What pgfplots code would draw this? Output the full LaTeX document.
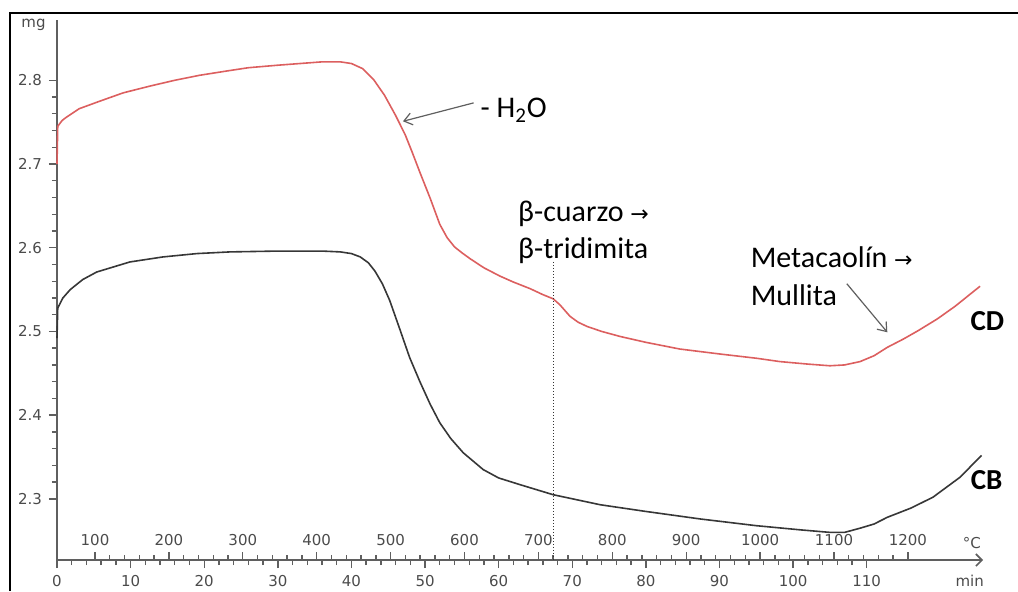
\documentclass[border=0pt]{standalone}
\usepackage{fontspec}
\setmainfont{Carlito}
\newfontfamily\tickfont{DejaVu Sans}
\usepackage{pgfplots}
\pgfplotsset{compat=1.18}
\usetikzlibrary{arrows.meta}
\definecolor{cdred}{RGB}{220,95,95}
\definecolor{cbgray}{RGB}{55,55,55}
\definecolor{axgray}{RGB}{95,95,95}
\definecolor{lblgray}{RGB}{75,75,75}
\newcommand{\arr}{{\tickfont\fontsize{11}{13}\selectfont →}}

\pgfplotstableread{
t m
0 2.700
0.1 2.745
0.7 2.752
1.3 2.756
3 2.766
5.8 2.775
9 2.785
12.6 2.793
16 2.800
19.4 2.806
23 2.811
26 2.815
30 2.818
33 2.820
36 2.822
38.5 2.822
40 2.820
41.5 2.814
43 2.801
44.5 2.782
46 2.758
47.3 2.735
48.3 2.713
49.3 2.690
50.7 2.659
52.0 2.628
53.0 2.612
54.0 2.601
55.0 2.594
56.1 2.587
58 2.576
60.2 2.566
62 2.559
64.3 2.551
66 2.544
67.4 2.539
68.3 2.532
69.7 2.518
70.8 2.511
72.0 2.506
74 2.500
76.5 2.494
80 2.487
84.6 2.479
90.1 2.473
95 2.468
98.2 2.464
102 2.461
105.0 2.459
107 2.460
109.1 2.464
111 2.471
112.8 2.481
115 2.491
117 2.501
119.6 2.515
122 2.530
125.4 2.554
}\cdtable

\pgfplotstableread{
t m
0 2.492
0.1 2.528
0.8 2.540
1.8 2.550
3.5 2.562
5.4 2.571
9.9 2.583
14.4 2.589
19 2.593
23.5 2.595
30 2.596
36 2.596
38.5 2.595
40 2.593
41.2 2.589
42.3 2.582
43.2 2.572
44.2 2.557
45.2 2.537
46.6 2.502
47.9 2.469
49.3 2.440
50.7 2.413
52.0 2.391
53.5 2.372
55.2 2.355
57.9 2.335
60 2.325
62.9 2.317
67.4 2.305
73.8 2.293
80 2.285
87.4 2.276
95 2.268
101.0 2.263
105.0 2.260
107 2.260
109.1 2.265
111 2.270
112.8 2.278
116 2.289
119.0 2.302
122.7 2.326
125.6 2.352
}\cbtable

\begin{document}
\begin{tikzpicture}
\path[use as bounding box] (0,0) rectangle (509pt,295.5pt);
\draw[line width=1.1pt] (5pt,0) -- (5pt,289pt) -- (509pt,289pt);

% temperature scale
\begin{axis}[
  at={(28.5pt,15.5pt)}, anchor=south west, scale only axis,
  width=463pt, height=270pt,
  xmin=48.6, xmax=1301.6, ymin=2.227, ymax=2.872,
  hide y axis,
  axis x line*=bottom,
  x axis line style={draw=none},
  xtick={100,200,...,1200}, minor x tick num=4,
  xtick align=inside, major tick length=4pt, minor tick length=2.5pt,
  every tick/.style={axgray, line width=0.7pt},
  /pgf/number format/assume math mode=true,
  /pgf/number format/set thousands separator={},
  xticklabel style={anchor=south, yshift=3.5pt, font=\tickfont\fontsize{7.5}{9}\selectfont, text=lblgray},
]
\addplot[draw=none] coordinates {(100,2.5)};
\end{axis}

% main axis (minutes)
\begin{axis}[
  at={(28.5pt,15.5pt)}, anchor=south west, scale only axis,
  width=463pt, height=270pt,
  xmin=0, xmax=125.8, ymin=2.227, ymax=2.872,
  clip=false,
  axis x line=bottom, axis y line=left,
  x axis line style={axgray, line width=0.8pt, -{Straight Barb[length=3pt]}},
  y axis line style={axgray, line width=0.8pt, -},
  xtick={0,10,...,110}, minor x tick num=4,
  ytick={2.3,2.4,2.5,2.6,2.7,2.8}, minor y tick num=4,
  xtick align=outside, ytick align=outside,
  major tick length=4pt, minor tick length=2.5pt,
  every tick/.style={axgray, line width=0.7pt},
  /pgf/number format/assume math mode=true,
  yticklabel style={/pgf/number format/.cd, fixed, precision=1, /tikz/.cd, font=\tickfont\fontsize{7.5}{9}\selectfont, text=lblgray},
  xticklabel style={font=\tickfont\fontsize{7.5}{9}\selectfont, text=lblgray},
]
\addplot[cdred, line width=0.8pt] table[x=t, y=m] {\cdtable};
\addplot[cbgray, line width=0.8pt] table[x=t, y=m] {\cbtable};

\draw[densely dotted, black!80, line width=0.5pt] (axis cs:67.4,2.583) -- (axis cs:67.4,2.227);

\draw[axgray, line width=0.6pt, -{Straight Barb[length=4pt,width=6pt]}] (axis cs:56.6,2.773) -- (axis cs:47.0,2.751);
\node[anchor=west, font=\fontsize{15}{18}\selectfont, inner sep=0pt] at (axis cs:57.5,2.764) {- H\textsubscript{2}O};

\node[anchor=west, font=\fontsize{15}{18}\selectfont, inner sep=0pt, align=left] at (axis cs:62.6,2.641) {β-cuarzo \arr};
\node[anchor=west, font=\fontsize{15}{18}\selectfont, inner sep=0pt] at (axis cs:62.6,2.597) {β-tridimita};

\node[anchor=west, font=\fontsize{15}{18}\selectfont, inner sep=0pt] at (axis cs:94.2,2.589) {Metacaolín \arr};
\node[anchor=west, font=\fontsize{15}{18}\selectfont, inner sep=0pt] at (axis cs:94.2,2.543) {Mullita};
\draw[axgray, line width=0.6pt, -{Straight Barb[length=4pt,width=6pt]}] (axis cs:107.3,2.557) -- (axis cs:112.8,2.499);

\node[font=\bfseries\fontsize{14.5}{17}\selectfont, inner sep=0pt] at (axis cs:126.4,2.512) {CD};
\node[font=\bfseries\fontsize{14.5}{17}\selectfont, inner sep=0pt] at (axis cs:126.3,2.323) {CB};

\node[anchor=east, font=\tickfont\fontsize{7.5}{9}\selectfont, text=lblgray, inner sep=0pt] at (axis cs:-1.5,2.866) {mg};
\node[font=\tickfont\fontsize{7.5}{9}\selectfont, text=lblgray, inner sep=0pt] at (axis cs:124.3,2.247) {°C};
\node[font=\tickfont\fontsize{7.5}{9}\selectfont, text=lblgray, inner sep=0pt] at (axis cs:124.0,2.202) {min};
\end{axis}
\end{tikzpicture}
\end{document}
